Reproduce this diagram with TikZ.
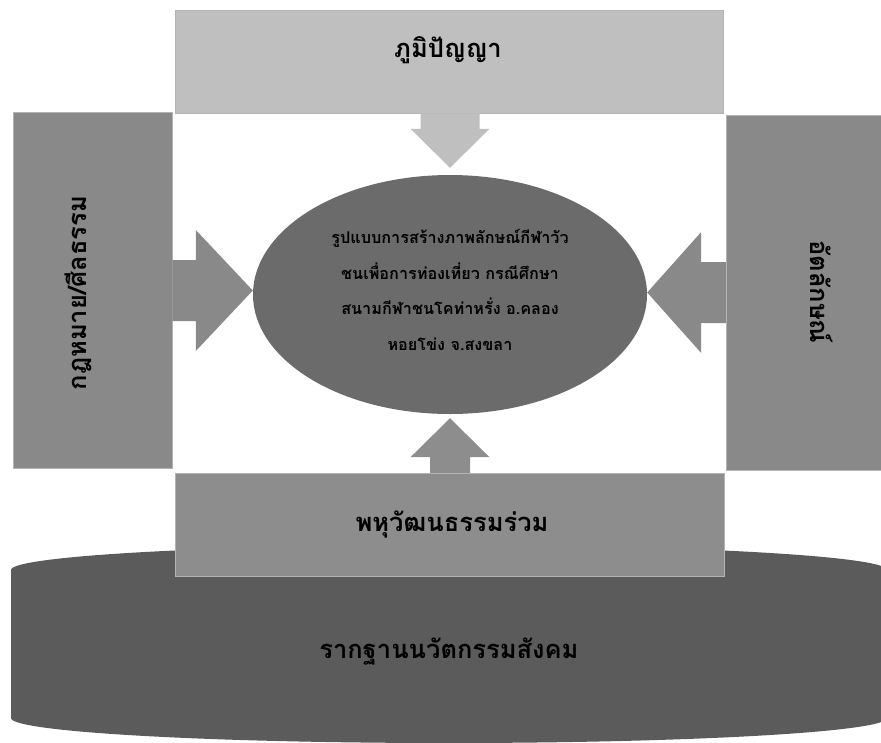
\documentclass[tikz,border=0pt]{standalone}
\usepackage{fontspec}
\newfontfamily\thai[Script=Thai]{Loma}
\usetikzlibrary{calc,shapes.geometric}

\definecolor{topgray}{HTML}{BFBFBF}
\definecolor{sidegray}{HTML}{898989}
\definecolor{basegray}{HTML}{8D8D8D}
\definecolor{coregray}{HTML}{6B6B6B}
\definecolor{rootgray}{HTML}{5B5B5B}
\definecolor{edgegray}{HTML}{B4B4B4}

% block arrow from tail #2 to tip #3: style #1, shaft half-width #4,
% head half-width #5, head length #6
\newcommand\blockarrow[6]{%
  \coordinate (ba-h) at ($(#3)!#6!(#2)$);
  \fill[#1] ($(#2)!#4!90:(#3)$) -- ($(ba-h)!#4!-90:(#2)$) -- ($(ba-h)!#5!-90:(#2)$)
    -- (#3) -- ($(ba-h)!#5!90:(#2)$) -- ($(ba-h)!#4!90:(#2)$) -- ($(#2)!#4!-90:(#3)$) -- cycle;}

\begin{document}
\begin{tikzpicture}[x=1pt,y=-1pt,
  panel/.style={rectangle, draw=edgegray, line width=0.5pt, inner sep=0pt},
  lbl/.style={font=\thai\bfseries\fontsize{25.5}{30}\selectfont, inner sep=0pt, text=black},
  corelbl/.style={font=\thai\bfseries\fontsize{16.2}{35.5}\selectfont, inner sep=0pt,
    align=center, text=black}]
\useasboundingbox (0,0) rectangle (881,742);

% social-innovation base drawn as a flat cylinder
\fill[rootgray] (11,570) arc[start angle=180, end angle=360, x radius=438, y radius=25]
  -- (887,718) arc[start angle=0, end angle=180, x radius=438, y radius=25] -- cycle;
\node[lbl] (rootlbl) at (449,652) {รากฐานนวัตกรรมสังคม};

% central ellipse
\node[ellipse, fill=coregray, minimum width=394pt, minimum height=239pt, inner sep=0pt]
  (core) at (450,294.5) {};

% surrounding panels
\node[panel, fill=topgray, minimum width=548pt, minimum height=103pt] (top) at (449,61.5) {};
\node[panel, fill=sidegray, minimum width=159pt, minimum height=356pt] (left) at (92.5,290) {};
\node[panel, fill=sidegray, minimum width=159pt, minimum height=355pt] (right) at (805.5,292.5) {};
\node[panel, fill=basegray, minimum width=549pt, minimum height=103pt] (base) at (449.5,524.5) {};

% arrows into the ellipse
\coordinate (tipT) at ($(core.north)+(0,-7)$);
\coordinate (tipB) at ($(core.south)+(0,4)$);
\coordinate (tipL) at ($(core.west)+(0,-4)$);
\coordinate (tipR) at ($(core.east)+(0,-2)$);
\coordinate (tailT) at (tipT |- top.south);
\coordinate (tailB) at (tipB |- base.north);
\coordinate (tailL) at (tipL -| left.east);
\coordinate (tailR) at (tipR -| right.west);
\blockarrow{topgray}{tailT}{tipT}{29.5pt}{39.5pt}{39pt}
\blockarrow{basegray}{tailB}{tipB}{20pt}{39.5pt}{39pt}
\blockarrow{sidegray}{tailL}{tipL}{30.5pt}{60.5pt}{57pt}
\blockarrow{sidegray}{tailR}{tipR}{30.5pt}{60.5pt}{54pt}

% labels
\node[lbl] (toplbl) at (448,50) {ภูมิปัญญา};
\node[lbl] (baselbl) at (452,525) {พหุวัฒนธรรมร่วม};
\node[lbl, rotate=90] (leftlbl) at (78,293) {กฎหมาย/ศีลธรรม};
\node[lbl, rotate=-90] (rightlbl) at (822,292) {อัตลักษณ์};
\node[corelbl] (corelbl) at (450,290) {รูปแบบการสร้างภาพลักษณ์กีฬาวัว\\
  ชนเพื่อการท่องเที่ยว กรณีศึกษา\\
  สนามกีฬาชนโคท่าหรั่ง อ.คลอง\\
  หอยโข่ง จ.สงขลา};
\end{tikzpicture}
\end{document}
